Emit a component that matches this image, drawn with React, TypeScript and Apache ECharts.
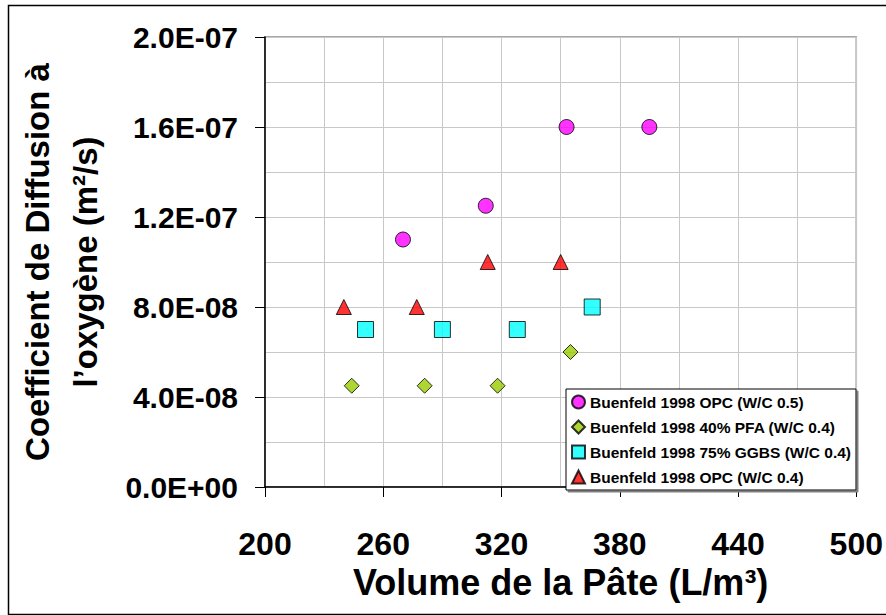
import React, { useEffect, useRef } from "react";
import * as echarts from "echarts";

const xTicks = [200, 260, 320, 380, 440, 500];
const yTickLabels = ["0.0E+00", "4.0E-08", "8.0E-08", "1.2E-07", "1.6E-07", "2.0E-07"];

const seriesNames = [
  "Buenfeld 1998 OPC (W/C 0.5)",
  "Buenfeld 1998 40% PFA (W/C 0.4)",
  "Buenfeld 1998 75% GGBS (W/C 0.4)",
  "Buenfeld 1998 OPC (W/C 0.4)",
];

const opc05X = [270, 312, 353, 395];
const opc05Y = [1.1e-7, 1.25e-7, 1.6e-7, 1.6e-7];
const pfaX = [244, 281, 318, 355];
const pfaY = [4.5e-8, 4.5e-8, 4.5e-8, 6.0e-8];
const ggbsX = [251, 290, 328, 366];
const ggbsY = [7e-8, 7e-8, 7e-8, 8e-8];
const opc04X = [240, 277, 313, 350];
const opc04Y = [8e-8, 8e-8, 1e-7, 1e-7];

const FONT = "'Liberation Sans', Arial, sans-serif";

function fmtSci(v: number): string {
  if (v === 0) return yTickLabels[0];
  let exp = Math.floor(Math.log10(Math.abs(v)));
  let mant = Math.round((v / Math.pow(10, exp)) * 10) / 10;
  if (mant >= 10) {
    mant = mant / 10;
    exp += 1;
  }
  const sign = exp < 0 ? "-" : "+";
  const e = Math.abs(exp).toString().padStart(2, "0");
  return mant.toFixed(1) + "E" + sign + e;
}

function zip(xs: number[], ys: number[]) {
  return xs.map((x, i) => [x, ys[i]]);
}

export default function App() {
  const ref = useRef<HTMLDivElement>(null);
  useEffect(() => {
    if (!ref.current) return;
    const chart = echarts.init(ref.current, undefined, { renderer: "svg" });
    const grid = "#c8c8c8";
    const markerBorder = { borderColor: "#000", borderWidth: 1 };
    chart.setOption({
      animation: false,
      backgroundColor: "#fff",
      graphic: [
        {
          type: "rect",
          shape: { x: 8.5, y: 5.5, width: 900, height: 609 },
          style: { fill: "none", stroke: "#000", lineWidth: 1.5 },
          z: 100,
        },
      ],
      grid: {
        left: 265,
        top: 37,
        right: 29,
        bottom: 128,
        show: true,
        borderColor: "#8a8a8a",
        borderWidth: 1.5,
      },
      legend: {
        orient: "vertical",
        left: 566,
        top: 389,
        padding: [5, 5, 5, 5],
        itemGap: 9,
        itemWidth: 13,
        itemHeight: 13,
        backgroundColor: "#fff",
        borderColor: "#000",
        borderWidth: 1,
        shadowColor: "#808080",
        shadowOffsetX: 2,
        shadowOffsetY: 2,
        shadowBlur: 0,
        textStyle: { fontFamily: FONT, fontWeight: "bold", fontSize: 15.5, color: "#000" },
        data: seriesNames,
      },
      xAxis: {
        type: "value",
        min: xTicks[0],
        max: xTicks[xTicks.length - 1],
        interval: 60,
        name: "Volume de la Pâte (L/m³)",
        nameLocation: "middle",
        nameGap: 77,
        nameTextStyle: { fontFamily: FONT, fontWeight: "bold", fontSize: 36, color: "#000" },
        axisLine: { show: true, onZero: false, lineStyle: { color: "#000", width: 1.5 } },
        axisTick: { show: true, length: 10, lineStyle: { color: "#000", width: 1 } },
        axisLabel: {
          margin: 41,
          fontFamily: FONT,
          fontWeight: "bold",
          fontSize: 32,
          color: "#000",
          formatter: (v: number) => String(v),
        },
        splitLine: { show: true, lineStyle: { color: grid, width: 1 } },
        minorTick: { show: false, splitNumber: 2 },
        minorSplitLine: { show: true, lineStyle: { color: grid, width: 1 } },
      },
      yAxis: {
        type: "value",
        min: 0,
        max: 2e-7,
        interval: 4e-8,
        name: "Coefficient de Diffusion à\nl’oxygène (m²/s)",
        nameLocation: "middle",
        nameGap: 156,
        nameRotate: 90,
        nameTextStyle: {
          fontFamily: FONT,
          fontWeight: "bold",
          fontSize: 33,
          lineHeight: 48,
          color: "#000",
        },
        axisLine: { show: true, onZero: false, lineStyle: { color: "#000", width: 1.5 } },
        axisTick: { show: true, length: 10, lineStyle: { color: "#000", width: 1 } },
        axisLabel: {
          margin: 27,
          fontFamily: FONT,
          fontWeight: "bold",
          fontSize: 30,
          color: "#000",
          formatter: (v: number) => fmtSci(v),
        },
        splitLine: { show: true, lineStyle: { color: grid, width: 1 } },
        minorTick: { show: false, splitNumber: 2 },
        minorSplitLine: { show: true, lineStyle: { color: grid, width: 1 } },
      },
      series: [
        {
          name: seriesNames[0],
          type: "scatter",
          symbol: "circle",
          symbolSize: 15,
          itemStyle: { color: "#FF00FF", ...markerBorder },
          data: zip(opc05X, opc05Y),
        },
        {
          name: seriesNames[1],
          type: "scatter",
          symbol: "diamond",
          symbolSize: 15,
          itemStyle: { color: "#99CC00", ...markerBorder },
          data: zip(pfaX, pfaY),
        },
        {
          name: seriesNames[2],
          type: "scatter",
          symbol: "rect",
          symbolSize: 16,
          itemStyle: { color: "#00FFFF", ...markerBorder },
          data: zip(ggbsX, ggbsY),
        },
        {
          name: seriesNames[3],
          type: "scatter",
          symbol: "triangle",
          symbolSize: 15,
          itemStyle: { color: "#FF0000", ...markerBorder },
          data: zip(opc04X, opc04Y),
        },
      ],
    });
    return () => chart.dispose();
  }, []);
  return (
    <div
      ref={ref}
      style={{ position: "absolute", left: 0, top: 0, width: 886, height: 615 }}
    />
  );
}
